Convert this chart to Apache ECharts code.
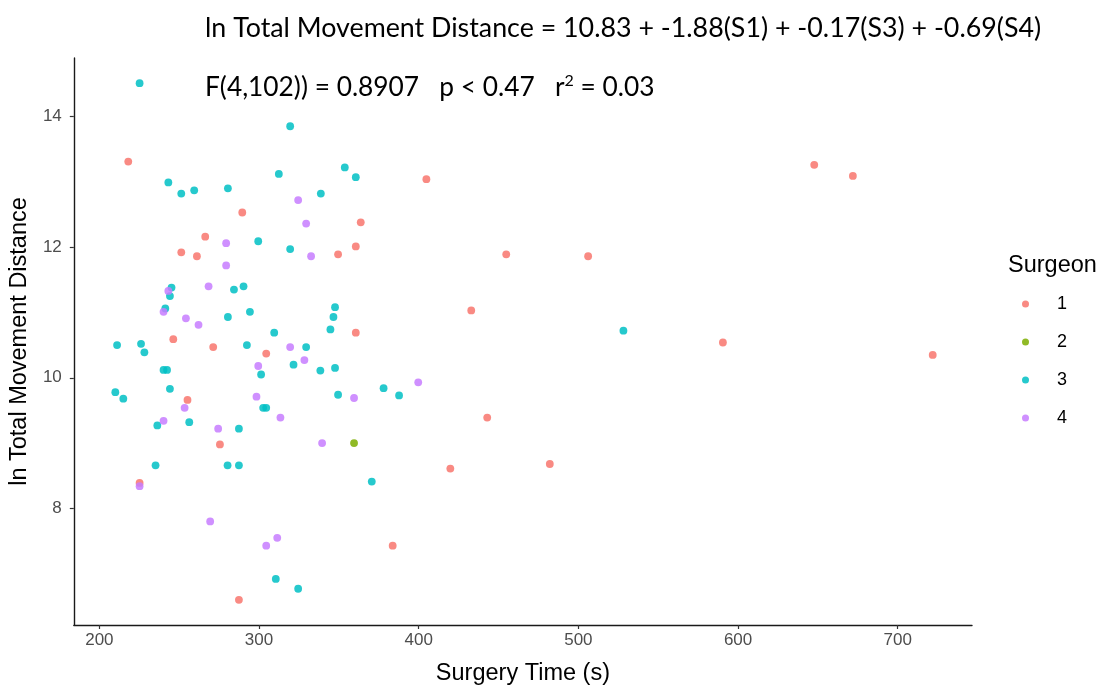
<!DOCTYPE html>
<html>
<head>
<meta charset="utf-8">
<script src="https://cdn.jsdelivr.net/npm/echarts@6.0.0/dist/echarts.min.js"></script>
<style>
  html, body { margin: 0; padding: 0; background: #fff; }
  #chart { width: 1102px; height: 691px; }
</style>
</head>
<body>
<div id="chart"></div>
<script>
//--------------------- Data ---------------------------//
const surgeonNames = ['1', '2', '3', '4'];
const surgeonColors = ['#F8766D', '#7CAE00', '#00BFC4', '#C77CFF'];

// Surgery time (s) and ln total movement distance, per surgeon
const timeS1 = [218.1, 251.3, 261.1, 266.3, 289.5, 363.7, 349.5, 360.6, 360.6, 271.3,
  304.5, 255.2, 246.3, 225.2, 275.5, 383.7, 287.4, 404.8, 454.8, 506.1,
  432.9, 442.9, 419.8, 482.1, 590.5, 647.7, 671.9, 721.9];
const distS1 = [13.31, 11.92, 11.86, 12.16, 12.53, 12.38, 11.89, 12.01, 10.69, 10.47,
  10.37, 9.66, 10.59, 8.39, 8.98, 7.43, 6.60, 13.04, 11.89, 11.86,
  11.03, 9.39, 8.61, 8.68, 10.54, 13.26, 13.09, 10.35];

const timeS2 = [359.5];
const distS2 = [9.00];

const timeS3 = [225.2, 319.5, 312.4, 353.7, 360.6, 243.2, 251.3, 259.4, 280.5, 338.7,
  299.5, 319.5, 284.3, 290.3, 347.6, 346.6, 294.3, 280.5, 309.5, 344.7,
  292.4, 329.5, 321.6, 301.3, 338.4, 347.6, 378.0, 387.7, 349.5, 302.6,
  304.5, 256.3, 287.4, 280.3, 287.4, 370.6, 310.5, 324.5, 245.2, 244.2,
  241.3, 211.1, 226.1, 228.2, 240.2, 242.4, 210.0, 215.0, 244.2, 236.3,
  235.2, 528.2];
const distS3 = [14.51, 13.85, 13.12, 13.22, 13.07, 12.99, 12.82, 12.87, 12.90, 12.82,
  12.09, 11.97, 11.35, 11.40, 11.08, 10.93, 11.01, 10.93, 10.69, 10.74,
  10.50, 10.47, 10.20, 10.05, 10.11, 10.15, 9.84, 9.73, 9.74, 9.54,
  9.54, 9.32, 9.22, 8.66, 8.66, 8.41, 6.92, 6.77, 11.38, 11.25,
  11.06, 10.50, 10.52, 10.39, 10.12, 10.12, 9.78, 9.68, 9.83, 9.27,
  8.66, 10.72];

const timeS4 = [324.5, 329.5, 279.4, 332.6, 279.4, 268.4, 262.1, 319.5, 328.4, 299.5,
  359.5, 298.4, 313.4, 274.4, 339.5, 269.4, 311.4, 304.5, 399.7, 243.2,
  240.2, 254.2, 253.4, 240.2, 225.2];
const distS4 = [12.72, 12.36, 12.06, 11.86, 11.72, 11.40, 10.81, 10.47, 10.27, 10.18,
  9.69, 9.71, 9.39, 9.22, 9.00, 7.80, 7.55, 7.43, 9.93, 11.33,
  11.01, 10.91, 9.54, 9.34, 8.34];

const xTicks = [200, 300, 400, 500, 600, 700];
const yTicks = [8, 10, 12, 14];

const equationText = 'ln Total Movement Distance = 10.83 + -1.88(S1) + -0.17(S3) + -0.69(S4)';
const statsText = 'F(4,102)) = 0.8907   p < 0.47   r{sup|2} = 0.03';

//--------------------- Chart ---------------------------//
const times = [timeS1, timeS2, timeS3, timeS4];
const dists = [distS1, distS2, distS3, distS4];

const series = surgeonNames.map((name, i) => ({
  name: name,
  type: 'scatter',
  symbol: 'circle',
  symbolSize: 7.8,
  itemStyle: { color: surgeonColors[i], opacity: 0.85 },
  data: times[i].map((t, j) => [t, dists[i][j]]),
}));

const eqFont = { fontFamily: 'Lato', fontWeight: 'normal', color: '#000' };
const axisFont = 'Liberation Sans';

const chart = echarts.init(document.getElementById('chart'), null, { renderer: 'canvas' });
chart.setOption({
  animation: false,
  backgroundColor: '#fff',
  title: [
    { text: equationText, left: 205, top: 15, padding: 0, textStyle: Object.assign({ fontSize: 26.8 }, eqFont) },
    {
      text: statsText, left: 205, top: 73, padding: 0,
      textStyle: Object.assign({ fontSize: 26.3 }, eqFont, {
        rich: { sup: { fontFamily: 'Lato', fontSize: 16, color: '#000', verticalAlign: 'top', padding: [0, 0, 14, 0] } },
      }),
    },
    {
      text: 'Surgeon', left: 1008, top: 254, padding: 0,
      textStyle: { fontFamily: axisFont, fontSize: 23.5, fontWeight: 'normal', color: '#000' },
    },
  ],
  legend: {
    orient: 'vertical',
    left: 1022,
    top: 295,
    padding: 0,
    itemGap: 20,
    itemWidth: 7,
    itemHeight: 7,
    icon: 'circle',
    data: surgeonNames,
    textStyle: { fontFamily: axisFont, fontSize: 18, color: '#000', padding: [0, 0, 0, 23] },
  },
  grid: { left: 73, right: 130, top: 58, bottom: 64, containLabel: false },
  xAxis: {
    type: 'value',
    min: 184,
    max: 746.5,
    name: 'Surgery Time (s)',
    nameLocation: 'middle',
    nameGap: 37,
    nameTextStyle: { fontFamily: axisFont, fontSize: 23.5, color: '#000' },
    axisLine: { show: true, lineStyle: { color: '#1a1a1a', width: 1.4 } },
    axisTick: { show: true, length: 4, lineStyle: { color: '#333', width: 1.2 }, customValues: xTicks },
    axisLabel: { customValues: xTicks, margin: 7, fontFamily: axisFont, fontSize: 17, color: '#4d4d4d' },
    splitLine: { show: false },
  },
  yAxis: {
    type: 'value',
    min: 6.215,
    max: 14.895,
    name: 'ln Total Movement Distance',
    nameLocation: 'middle',
    nameGap: 40,
    nameTextStyle: { fontFamily: axisFont, fontSize: 23.5, color: '#000' },
    axisLine: { show: true, lineStyle: { color: '#1a1a1a', width: 1.4 } },
    axisTick: { show: true, length: 4, lineStyle: { color: '#333', width: 1.2 }, customValues: yTicks },
    axisLabel: { customValues: yTicks, margin: 12, fontFamily: axisFont, fontSize: 17, color: '#4d4d4d' },
    splitLine: { show: false },
  },
  series: series,
});
</script>
</body>
</html>
